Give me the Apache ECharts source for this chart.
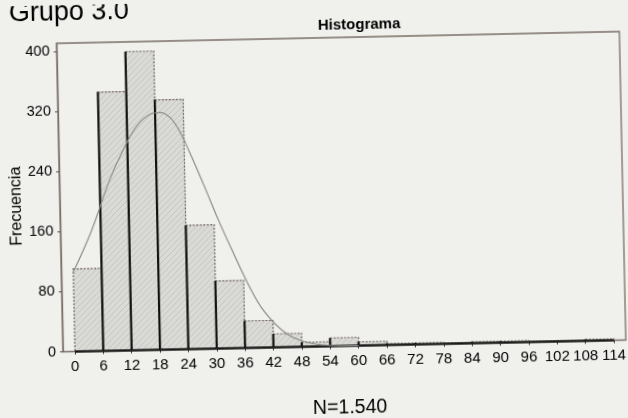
<!DOCTYPE html>
<html>
<head>
<meta charset="utf-8">
<script src="https://cdn.jsdelivr.net/npm/echarts@6/dist/echarts.min.js"></script>
<style>
html,body{margin:0;padding:0;background:#f0f0ed;overflow:hidden;}
#chart{width:628px;height:418px;transform:rotate(-1.2deg);transform-origin:314px 209px;}
</style>
</head>
<body>
<div id="chart"></div>
<script>
// Data
const binStarts = [0, 6, 12, 18, 24, 30, 36, 42, 48, 54, 60, 66, 72, 78, 84, 90, 96, 102, 108];
const binEnds   = [6, 12, 18, 24, 30, 36, 42, 48, 54, 60, 66, 72, 78, 84, 90, 96, 102, 108, 114];
const frequencies = [110, 345, 398, 333, 165, 90, 36, 18, 6, 11, 5, 2, 2, 1, 2, 2, 1, 1, 2];
const xTickLabels = [0, 6, 12, 18, 24, 30, 36, 42, 48, 54, 60, 66, 72, 78, 84, 90, 96, 102, 108, 114];
const yTickLabels = [0, 80, 160, 240, 320, 400];
const curveX = [0, 4, 8, 11, 14, 17, 19, 21, 23, 25, 28, 31, 34, 37, 40, 44, 48, 54, 60];
const curveY = [106, 160, 226, 266, 298, 314, 316, 310, 292, 264, 218, 170, 126, 84, 50, 22, 8, 1, 0];

const barData = binStarts.map((s, i) => [s, binEnds[i], frequencies[i]]);
const curveData = curveX.map((x, i) => [x, curveY[i]]);

// hatch pattern
const pc = document.createElement('canvas');
pc.width = 6; pc.height = 6;
const g = pc.getContext('2d');
g.fillStyle = '#dadad6';
g.fillRect(0, 0, 6, 6);
g.strokeStyle = '#c4c4bf';
g.lineWidth = 1;
g.beginPath();
g.moveTo(0, 6); g.lineTo(6, 0);
g.moveTo(-3, 3); g.lineTo(3, -3);
g.moveTo(3, 9); g.lineTo(9, 3);
g.stroke();
const hatch = { image: pc, repeat: 'repeat' };

function renderBar(params, api) {
  const x0 = api.value(0), x1 = api.value(1), v = api.value(2);
  const p0 = api.coord([x0, v]);
  const p1 = api.coord([x1, 0]);
  const w = p1[0] - p0[0], h = p1[1] - p0[1];
  const children = [{
    type: 'rect',
    shape: { x: p0[0], y: p0[1], width: w, height: h },
    style: { fill: hatch, stroke: '#6e625a', lineWidth: 1.2, lineDash: [2, 1.5] }
  }];
  if (params.dataIndex > 0) {
    children.push({ type: 'line', shape: { x1: p0[0], y1: p0[1], x2: p0[0], y2: p1[1] },
      style: { stroke: '#111', lineWidth: 2.2 } });
  }
  children.push({ type: 'line', shape: { x1: p0[0], y1: p1[1], x2: p1[0], y2: p1[1] },
    style: { stroke: '#1a1a1a', lineWidth: 2.4 } });
  return { type: 'group', children };
}

const chart = echarts.init(document.getElementById('chart'));
const font = 'Liberation Sans';
chart.setOption({
  backgroundColor: '#f0f0ed',
  animation: false,
  title: [
    { text: 'Grupo 3.0', left: 8, top: -11, textStyle: { fontFamily: font, fontSize: 27, fontWeight: 'normal', color: '#000' } },
    { text: 'Histograma', left: 358, top: 13, textAlign: 'center', textStyle: { fontFamily: font, fontSize: 15, fontWeight: 'bold', color: '#000' } },
    { text: 'N=1.540', left: 341, top: 394, textAlign: 'center', textStyle: { fontFamily: font, fontSize: 19.5, fontWeight: 'normal', color: '#000' } }
  ],
  graphic: [
    { type: 'text', x: 17, y: 200, rotation: Math.PI / 2,
      style: { text: 'Frecuencia', align: 'center', verticalAlign: 'middle', fontFamily: font, fontSize: 16, fill: '#000' } }
  ],
  grid: { left: 60, top: 38, right: 5, bottom: 71.5, show: true, borderColor: '#7a6e66', borderWidth: 1.3, backgroundColor: 'transparent' },
  xAxis: {
    type: 'value', min: -2.54, max: 116.54,
    splitLine: { show: false },
    axisLine: { show: false },
    axisTick: { show: true, customValues: xTickLabels, length: 3, lineStyle: { color: '#333' } },
    axisLabel: { customValues: xTickLabels, fontFamily: font, fontSize: 15, color: '#000', margin: 8 }
  },
  yAxis: {
    type: 'value', min: 0, max: 411,
    splitLine: { show: false },
    axisLine: { show: true, onZero: false, lineStyle: { color: '#7a6e66', width: 1.3 } },
    axisTick: { show: true, customValues: yTickLabels, length: 3, lineStyle: { color: '#555' } },
    axisLabel: { customValues: yTickLabels, fontFamily: font, fontSize: 14.5, color: '#000', margin: 7 }
  },
  series: [
    { type: 'custom', renderItem: renderBar, data: barData, encode: { x: [0, 1], y: 2 }, z: 2 },
    { type: 'line', data: curveData, smooth: 0.4, symbol: 'none', z: 5,
      lineStyle: { color: '#8c8c8a', width: 1.2 } }
  ]
});
</script>
</body>
</html>
